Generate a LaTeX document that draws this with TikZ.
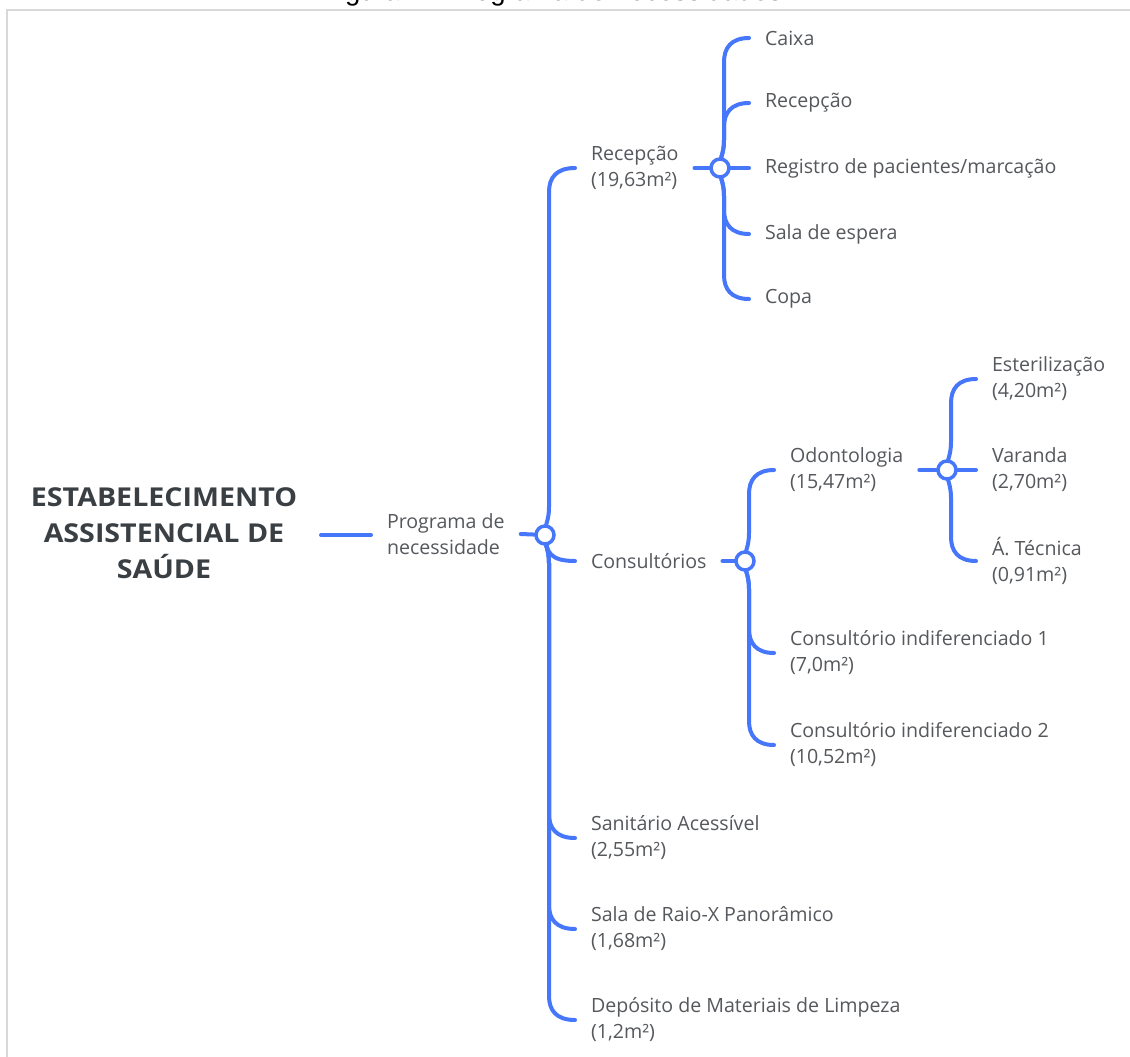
\documentclass[tikz,border=0pt]{standalone}
\usepackage{fontspec}
\setmainfont{Open Sans}
\newfontfamily\ttlfont[FakeStretch=1.1]{Open Sans}
\newfontfamily\capfont{Liberation Sans}
\usetikzlibrary{calc,backgrounds}
\definecolor{brblue}{RGB}{70,118,250}
\definecolor{txtgray}{RGB}{85,88,92}
\definecolor{ttlgray}{RGB}{58,63,68}
\definecolor{framegray}{RGB}{216,216,216}
\tikzset{
  lbl/.style={anchor=west, inner sep=0pt, outer xsep=16pt, outer ysep=0pt, align=left,
    text=txtgray, font=\fontsize{19.6}{26}\selectfont},
  hub/.style={circle, draw=brblue, fill=white, line width=3.5pt, minimum size=18pt, inner sep=0pt},
  conn/.style={draw=brblue, line width=4pt, line cap=round},
  longbr/.style={to path={
    let \p1=(\tikztostart), \p2=(\tikztotarget), \n1={sign(\y2-\y1)} in
    (\p1) .. controls (\x1, \y1+\n1*12pt) and (\x1+4pt, \y1+\n1*14pt) .. (\x1+4pt, \y1+\n1*28pt)
    -- (\x1+4pt, \y2-\n1*24pt)
    .. controls (\x1+4pt, \y2-\n1*10pt) and (\x1+11pt, \y2) .. (\p2)}},
  shortbr/.style={to path={
    let \p1=(\tikztostart), \p2=(\tikztotarget) in
    (\p1) .. controls (\x1+1pt, \y2+8pt) and (\x1+6pt, \y2) .. (\p2)}}
}
\begin{document}
\begin{tikzpicture}[x=1pt, y=-1pt]
\useasboundingbox (0,0) rectangle (1130,1057);
% cut-off caption at the top edge (only its lowest part shows)
\begin{scope}
  \clip (0,0) rectangle (1130,9);
  \node[anchor=base west, inner sep=0pt, font=\capfont\fontsize{27.5}{28}\selectfont] (cap) at (322,0.5)
    {Figura 1 - Programa de necessidades};
\end{scope}
% frame
\draw[framegray, line width=2pt] (7,1057) -- (7,10) -- (1130,10);

% title
\node[align=center, inner sep=0pt, text=ttlgray, font=\ttlfont\fontsize{26}{36}\selectfont\bfseries] (root) at (164,533)
  {ESTABELECIMENTO\\ASSISTENCIAL DE\\SAÚDE};
\coordinate (rootend) at (321,535);

% level 1
\node[lbl] (prog) at (371,534) {Programa de\\necessidade};
\node[hub] (pc) at (545,535) {};

\node[lbl] (rec) at (575,168) {Recepção\\(19,63m²)};
\node[lbl] (cons) at (575,561) {Consultórios};
\node[lbl] (san) at (575,838) {Sanitário Acessível\\(2,55m²)};
\node[lbl] (rx) at (575,929) {Sala de Raio-X Panorâmico\\(1,68m²)};
\node[lbl] (dep) at (575,1020) {Depósito de Materiais de Limpeza\\(1,2m²)};

% recepcao children
\node[hub] (rc) at (720,168) {};
\node[lbl] (caixa) at (749,38) {Caixa};
\node[lbl] (rec2) at (749,103) {Recepção};
\node[lbl] (reg) at (749,168) {Registro de pacientes/marcação};
\node[lbl] (sala) at (749,234) {Sala de espera};
\node[lbl] (copa) at (749,299) {Copa};

% consultorios children
\node[hub] (cc) at (745,561) {};
\node[lbl] (odo) at (774,470) {Odontologia\\(15,47m²)};
\node[lbl] (ci1) at (774,653) {Consultório indiferenciado 1\\(7,0m²)};
\node[lbl] (ci2) at (774,745) {Consultório indiferenciado 2\\(10,52m²)};

% odontologia children
\node[hub] (oc) at (947,470) {};
\node[lbl] (est) at (976,379) {Esterilização\\(4,20m²)};
\node[lbl] (var) at (976,470) {Varanda\\(2,70m²)};
\node[lbl] (tec) at (976,561) {Á. Técnica\\(0,91m²)};

\begin{scope}[on background layer]
  \fill[white] (0,0) rectangle (1130,1057);
  \draw[conn] (rootend) -- (rootend -| prog.west);
  \draw[conn] (prog.east) -- (pc);
  \draw[conn] (pc) to[longbr] (rec.west);
  \draw[conn] (pc) to[shortbr] (cons.west);
  \draw[conn] (pc) to[longbr] (san.west);
  \draw[conn] (pc) to[longbr] (rx.west);
  \draw[conn] (pc) to[longbr] (dep.west);

  \draw[conn] (rec.east) -- (rc);
  \draw[conn] (rc) to[longbr] (caixa.west);
  \draw[conn] (rc) to[longbr] (rec2.west);
  \draw[conn] (rc) -- (reg.west);
  \draw[conn] (rc) to[longbr] (sala.west);
  \draw[conn] (rc) to[longbr] (copa.west);

  \draw[conn] (cons.east) -- (cc);
  \draw[conn] (cc) to[longbr] (odo.west);
  \draw[conn] (cc) to[longbr] (ci1.west);
  \draw[conn] (cc) to[longbr] (ci2.west);

  \draw[conn] (odo.east) -- (oc);
  \draw[conn] (oc) to[longbr] (est.west);
  \draw[conn] (oc) -- (var.west);
  \draw[conn] (oc) to[longbr] (tec.west);
\end{scope}
\end{tikzpicture}
\end{document}
